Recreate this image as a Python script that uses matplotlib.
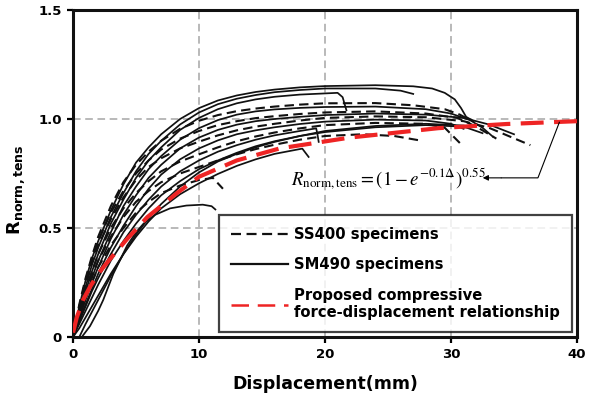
import matplotlib
matplotlib.use("Agg")
import matplotlib.pyplot as plt
from matplotlib.lines import Line2D

# Displacement stations (mm) shared by the rising branch of the test curves
disp_grid = [0, 0.5, 1, 1.5, 2, 3, 4, 5, 6, 7, 8.5, 10, 11.5, 13, 14.5, 16, 18, 20]

# ---- SS400 specimens: rising branch on disp_grid + individual tails ----
ss400_a_r = [0, 0.15, 0.27, 0.37, 0.46, 0.60, 0.71, 0.79, 0.85, 0.90, 0.955, 0.992, 1.018, 1.036, 1.048, 1.057, 1.066, 1.072]
ss400_a_tail_disp = [24, 27, 29.5, 30.7, 31.5]
ss400_a_tail_r = [1.073, 1.063, 1.045, 1.02, 0.995]

ss400_b_r = [0, 0.14, 0.26, 0.36, 0.44, 0.57, 0.67, 0.75, 0.81, 0.86, 0.91, 0.945, 0.972, 0.99, 1.004, 1.013, 1.023, 1.03]
ss400_b_tail_disp = [24, 28, 30.5, 32, 33.6]
ss400_b_tail_r = [1.035, 1.025, 1.005, 0.965, 0.91]

ss400_c_r = [0, 0.13, 0.25, 0.34, 0.42, 0.54, 0.64, 0.72, 0.78, 0.82, 0.865, 0.896, 0.925, 0.948, 0.965, 0.978, 0.993, 1.005]
ss400_c_tail_disp = [24, 28, 31, 33, 36.3]
ss400_c_tail_r = [1.012, 1.008, 0.99, 0.96, 0.88]

ss400_d_r = [0, 0.11, 0.22, 0.30, 0.38, 0.50, 0.59, 0.66, 0.715, 0.76, 0.805, 0.838, 0.87, 0.898, 0.92, 0.938, 0.957, 0.972]
ss400_d_tail_disp = [24, 28, 29.5, 30.7]
ss400_d_tail_r = [0.982, 0.978, 0.96, 0.89]

ss400_e_r = [0, 0.10, 0.20, 0.28, 0.35, 0.46, 0.55, 0.62, 0.67, 0.71, 0.75, 0.78, 0.81, 0.838, 0.862, 0.882, 0.905, 0.922]
ss400_e_tail_disp = [23, 25.5, 27.5]
ss400_e_tail_r = [0.93, 0.922, 0.902]

ss400_f_disp = [0, 0.5, 1, 1.5, 2, 3, 4, 5, 6, 7, 8.5, 10, 11.1, 11.9]
ss400_f_r = [0, 0.09, 0.18, 0.25, 0.32, 0.42, 0.50, 0.57, 0.62, 0.66, 0.695, 0.72, 0.73, 0.68]

# ---- SM490 specimens ----
sm490_a_r = [0, 0.14, 0.26, 0.36, 0.44, 0.58, 0.70, 0.80, 0.87, 0.93, 1.0, 1.05, 1.085, 1.108, 1.124, 1.135, 1.145, 1.151]
sm490_a_tail_disp = [24, 27, 28.5, 29.5, 30.3, 30.8, 31.2, 31.8]
sm490_a_tail_r = [1.155, 1.15, 1.14, 1.12, 1.09, 1.05, 1.01, 0.99]

sm490_b_r = [0, 0.12, 0.23, 0.33, 0.41, 0.55, 0.66, 0.76, 0.84, 0.90, 0.975, 1.03, 1.068, 1.093, 1.11, 1.123, 1.133, 1.14]
sm490_b_tail_disp = [24, 26, 27]
sm490_b_tail_r = [1.14, 1.13, 1.115]

sm490_c_r = [0, 0.11, 0.21, 0.30, 0.38, 0.52, 0.63, 0.73, 0.81, 0.87, 0.95, 1.005, 1.045, 1.072, 1.09, 1.102, 1.112, 1.118]
sm490_c_tail_disp = [21.0, 21.4, 21.6, 21.7]
sm490_c_tail_r = [1.12, 1.10, 1.06, 1.04]

sm490_d_r = [0, 0.10, 0.19, 0.27, 0.35, 0.48, 0.60, 0.69, 0.77, 0.83, 0.905, 0.958, 0.995, 1.02, 1.035, 1.044, 1.051, 1.055]
sm490_d_tail_disp = [24, 28, 30, 31.5, 32.5, 33.3]
sm490_d_tail_r = [1.057, 1.045, 1.025, 0.995, 0.96, 0.92]

sm490_e_r = [0, 0.09, 0.17, 0.25, 0.32, 0.45, 0.56, 0.65, 0.73, 0.79, 0.865, 0.915, 0.95, 0.974, 0.99, 1.0, 1.01, 1.018]
sm490_e_tail_disp = [24, 28, 31, 33, 35]
sm490_e_tail_r = [1.025, 1.02, 1.005, 0.975, 0.93]

sm490_f_r = [0, 0.08, 0.15, 0.22, 0.29, 0.41, 0.51, 0.60, 0.68, 0.745, 0.815, 0.865, 0.902, 0.93, 0.948, 0.962, 0.977, 0.988]
sm490_f_tail_disp = [24, 28, 30, 31]
sm490_f_tail_r = [0.997, 0.993, 0.978, 0.955]

sm490_g_disp = [0, 0.5, 1, 1.5, 2, 3, 4, 5, 6, 7, 8.5, 10, 11.5, 13, 14.5, 16, 18, 19.3, 19.4, 19.5]
sm490_g_r = [0, 0.07, 0.14, 0.21, 0.27, 0.38, 0.48, 0.56, 0.63, 0.69, 0.76, 0.81, 0.85, 0.88, 0.905, 0.925, 0.945, 0.957, 0.93, 0.895]

sm490_h_r = [0, 0.06, 0.12, 0.18, 0.24, 0.35, 0.44, 0.52, 0.59, 0.65, 0.715, 0.77, 0.81, 0.845, 0.875, 0.898, 0.922, 0.94]
sm490_h_tail_disp = [24, 28, 31, 32.5]
sm490_h_tail_r = [0.962, 0.972, 0.965, 0.935]

sm490_i_disp = [0, 0.5, 1, 1.5, 2, 3, 4, 5, 6, 7, 8.5, 10, 11.5, 13, 14.5, 16, 18, 18.2, 18.7]
sm490_i_r = [0, 0.04, 0.09, 0.14, 0.19, 0.29, 0.38, 0.46, 0.53, 0.59, 0.655, 0.705, 0.748, 0.785, 0.815, 0.84, 0.862, 0.864, 0.826]

sm490_j_disp = [0.7, 1.35, 2, 2.4, 3.2, 4.3, 5, 5.6, 6.5, 7.7, 9, 10.3, 11, 11.3]
sm490_j_r = [0, 0.05, 0.12, 0.17, 0.29, 0.42, 0.48, 0.52, 0.56, 0.59, 0.603, 0.607, 0.60, 0.585]

sm490_k_disp = [0.5, 1, 1.5, 2, 3, 4, 5, 6, 7, 8.5, 10, 11.5, 13, 14.5, 16, 18, 20, 24, 28, 31]
sm490_k_r = [0, 0.06, 0.115, 0.17, 0.28, 0.38, 0.47, 0.545, 0.61, 0.69, 0.755, 0.805, 0.84, 0.87, 0.895, 0.922, 0.945, 0.968, 0.978, 0.97]

# ---- Proposed relationship ----
proposed_disp = [0, 0.3, 0.8, 1.35, 2, 2.9, 4.3, 5.9, 8.25, 10, 13, 16.4, 22, 29, 34.4, 40]
proposed_r = [0.02, 0.09, 0.17, 0.23, 0.29, 0.355, 0.45, 0.55, 0.66, 0.735, 0.81, 0.865, 0.915, 0.958, 0.977, 0.99]

ss400 = [
    (disp_grid + ss400_a_tail_disp, ss400_a_r + ss400_a_tail_r),
    (disp_grid + ss400_b_tail_disp, ss400_b_r + ss400_b_tail_r),
    (disp_grid + ss400_c_tail_disp, ss400_c_r + ss400_c_tail_r),
    (disp_grid + ss400_d_tail_disp, ss400_d_r + ss400_d_tail_r),
    (disp_grid + ss400_e_tail_disp, ss400_e_r + ss400_e_tail_r),
    (ss400_f_disp, ss400_f_r),
]
sm490 = [
    (disp_grid + sm490_a_tail_disp, sm490_a_r + sm490_a_tail_r),
    (disp_grid + sm490_b_tail_disp, sm490_b_r + sm490_b_tail_r),
    (disp_grid[:-1] + sm490_c_tail_disp, sm490_c_r[:-1] + sm490_c_tail_r),
    (disp_grid + sm490_d_tail_disp, sm490_d_r + sm490_d_tail_r),
    (disp_grid + sm490_e_tail_disp, sm490_e_r + sm490_e_tail_r),
    (disp_grid + sm490_f_tail_disp, sm490_f_r + sm490_f_tail_r),
    (sm490_g_disp, sm490_g_r),
    (disp_grid + sm490_h_tail_disp, sm490_h_r + sm490_h_tail_r),
    (sm490_i_disp, sm490_i_r),
    (sm490_j_disp, sm490_j_r),
    (sm490_k_disp, sm490_k_r),
]

x_ticks = [0, 10, 20, 30, 40]
y_ticks = [0, 0.5, 1.0, 1.5]
y_tick_labels = ["0", "0.5", "1.0", "1.5"]

RED = "#EE2424"
DASH_BLACK = (0, (4.5, 2.5))
DASH_RED = (0, (5.5, 2.5))

fig = plt.figure(figsize=(5.91, 4.01), dpi=100)
ax = fig.add_axes([73 / 591, 1 - 337 / 401, (577 - 73) / 591, (337 - 10) / 401])

ax.set_xlim(0, 40)
ax.set_ylim(0, 1.5)

for v in [10, 20, 30]:
    ax.axvline(v, color="#A6A6A6", lw=1.1, ls=(0, (5, 3)), zorder=1)
for v in [0.5, 1.0]:
    ax.axhline(v, color="#A6A6A6", lw=1.1, ls=(0, (5, 3)), zorder=1)

for d, r in sm490:
    ax.plot(d, r, color="#111111", lw=1.25, solid_joinstyle="round", zorder=3)
for d, r in ss400:
    ax.plot(d, r, color="#111111", lw=1.5, ls=DASH_BLACK, zorder=3)
ax.plot(proposed_disp, proposed_r, color=RED, lw=3.0, ls=DASH_RED, zorder=4)

ax.set_xticks(x_ticks)
ax.set_yticks(y_ticks)
ax.set_yticklabels(y_tick_labels)
ax.tick_params(direction="out", length=4, width=1.6, labelsize=9.5, pad=4)
for lab in ax.get_xticklabels() + ax.get_yticklabels():
    lab.set_fontweight("bold")
for s in ax.spines.values():
    s.set_linewidth(2.2)
    s.set_color("#111111")

ax.set_xlabel("Displacement(mm)", fontsize=12.5, fontweight="bold", labelpad=10)
ax.set_ylabel(r"$\mathbf{R}_{\mathbf{norm,tens}}$", fontsize=13)
ax.yaxis.set_label_coords(-0.092, 0.45)

# Equation of the proposed curve with a leader arrow
ax.text(25.0, 0.725, r"$R_{\mathrm{norm,tens}}=\left(1-e^{-0.1\Delta}\right)^{0.55}$",
        ha="center", va="center", fontsize=13.5, math_fontfamily="stix", zorder=5)
ax.plot([38.6, 36.9, 34.0], [0.985, 0.73, 0.73], color="black", lw=0.8, zorder=5)
ax.annotate("", xy=(32.3, 0.73), xytext=(34.2, 0.73),
            arrowprops=dict(arrowstyle="-|>", color="black", lw=0.8, mutation_scale=8), zorder=5)

handles = [
    Line2D([], [], color="#111111", lw=1.6, ls=DASH_BLACK),
    Line2D([], [], color="#111111", lw=1.6),
    Line2D([], [], color=RED, lw=1.8, ls=(0, (7, 3.5))),
]
labels = ["SS400 specimens", "SM490 specimens",
          "Proposed compressive\nforce-displacement relationship"]
leg = ax.legend(handles, labels, loc="lower right",
                prop={"weight": "bold", "size": 10.6}, frameon=True, fancybox=False,
                edgecolor="#111111", handlelength=3.9, handletextpad=0.4,
                borderpad=0.8, labelspacing=1.05, borderaxespad=0.35)
leg.get_frame().set_linewidth(1.6)
leg.set_zorder(6)

fig.savefig("out.png", dpi=100)
